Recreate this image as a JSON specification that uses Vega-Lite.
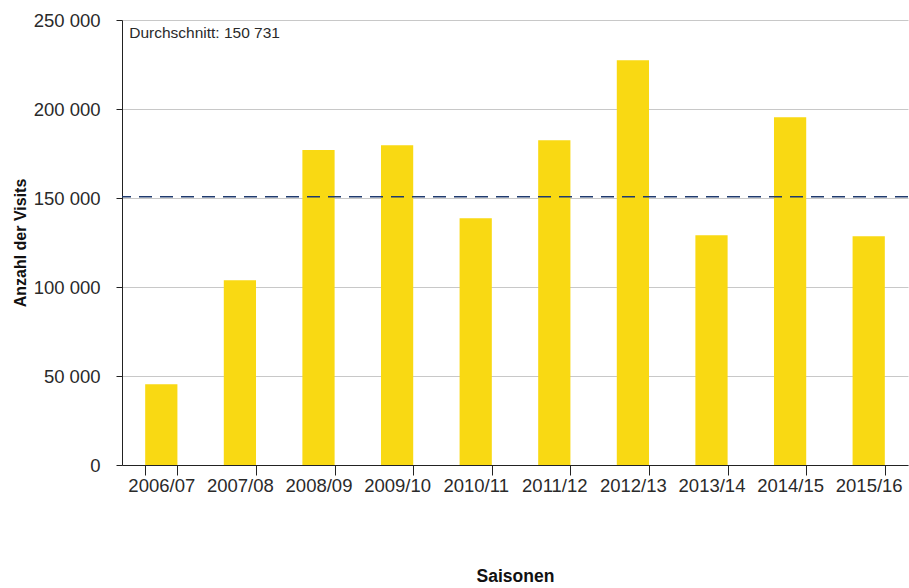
{
  "$schema": "https://vega.github.io/schema/vega-lite/v6.json",
  "width": 786,
  "height": 445,
  "autosize": {"type": "none"},
  "padding": {"left": 122, "top": 20, "right": 1, "bottom": 123},
  "config": {
    "view": {"stroke": null},
    "font": "Liberation Sans",
    "locale": {"number": {"decimal": ",", "thousands": " ", "grouping": [3], "currency": ["", " €"]}}
  },
  "datasets": {
    "visits": [
      {"saison": "2006/07", "visits": 45400},
      {"saison": "2007/08", "visits": 103800},
      {"saison": "2008/09", "visits": 176900},
      {"saison": "2009/10", "visits": 179700},
      {"saison": "2010/11", "visits": 138600},
      {"saison": "2011/12", "visits": 182500},
      {"saison": "2012/13", "visits": 227400},
      {"saison": "2013/14", "visits": 129100},
      {"saison": "2014/15", "visits": 195400},
      {"saison": "2015/16", "visits": 128500}
    ],
    "mean": [{"saison": "2006/07", "top": 250000, "avg": 150731, "label": "Durchschnitt: 150 731"}]
  },
  "layer": [
    {
      "data": {"name": "visits"},
      "mark": {"type": "bar", "color": "#F9D913"},
      "encoding": {
        "x": {
          "field": "saison",
          "type": "nominal",
          "sort": null,
          "scale": {"paddingInner": 0.59, "paddingOuter": 0.295},
          "axis": {
            "title": "Saisonen",
            "titleFont": "Liberation Sans",
            "titleFontSize": 17.5,
            "titleFontWeight": "bold",
            "titleColor": "#111",
            "titlePadding": 73,
            "labelAngle": 0,
            "labelFontSize": 18.5,
            "labelColor": "#2a2a2a",
            "labelPadding": 1,
            "tickBand": "extent",
            "tickSize": 10,
            "tickColor": "#222",
            "domainColor": "#222",
            "grid": false
          }
        },
        "y": {
          "field": "visits",
          "type": "quantitative",
          "scale": {"domain": [0, 250000], "nice": false},
          "axis": {
            "title": "Anzahl der Visits",
            "titleFont": "Liberation Sans",
            "titleFontSize": 16,
            "titleFontWeight": "bold",
            "titleColor": "#111",
            "titlePadding": 5,
            "values": [0, 50000, 100000, 150000, 200000, 250000],
            "format": ",d",
            "labelFontSize": 18.5,
            "labelColor": "#2a2a2a",
            "labelPadding": 16,
            "tickSize": 6,
            "tickColor": "#222",
            "domainColor": "#222",
            "gridColor": "#c8c8c8",
            "gridWidth": 1
          }
        }
      }
    },
    {
      "data": {"name": "mean"},
      "mark": {"type": "rule", "color": "#1f3a6e", "strokeWidth": 1.5, "strokeDash": [13, 8]},
      "encoding": {"y": {"field": "avg", "type": "quantitative", "scale": {"domain": [0, 250000], "nice": false}}}
    },
    {
      "data": {"name": "mean"},
      "mark": {"type": "text", "align": "left", "baseline": "alphabetic", "dx": -16, "dy": 18, "fontSize": 15.5, "color": "#2a2a2a"},
      "encoding": {
        "x": {"field": "saison", "type": "nominal", "bandPosition": 0},
        "y": {"field": "top", "type": "quantitative", "scale": {"domain": [0, 250000], "nice": false}},
        "text": {"field": "label"}
      }
    }
  ]
}
